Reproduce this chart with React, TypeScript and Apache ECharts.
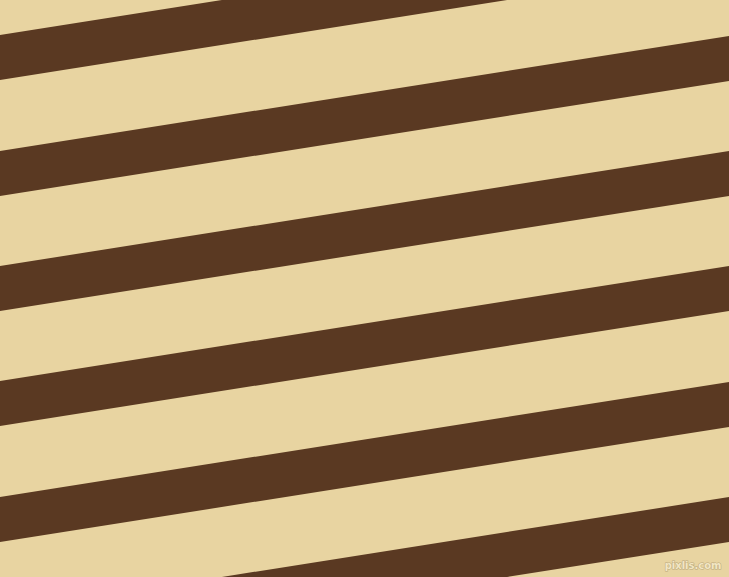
import { useRef, useEffect } from "react";
import * as echarts from "echarts";

const W = 729;
const H = 577;

// y of each stripe's upper edge at the left (x = 0) and right (x = 729) border
const stripeLeftTop = [35, 151, 266, 381, 497, 612];
const stripeRightTop = [-80, 36, 151, 266, 382, 497];
const stripeThickness = 45;

const App = () => {
  const chartRef = useRef<HTMLDivElement>(null);

  useEffect(() => {
    if (!chartRef.current) return;
    const myChart = echarts.init(chartRef.current, null, { renderer: "svg" });

    const data = stripeLeftTop.map((l, i) => [l, stripeRightTop[i]]);

    myChart.setOption({
      animation: false,
      backgroundColor: "#e8d4a1",
      grid: { left: 0, right: 0, top: 0, bottom: 0 },
      xAxis: { type: "value", min: 0, max: W, show: false },
      yAxis: { type: "value", min: 0, max: H, inverse: true, show: false },
      series: [
        {
          type: "custom",
          data,
          clip: true,
          renderItem: (params: any, api: any) => {
            const l = api.value(0);
            const r = api.value(1);
            const pts = [
              api.coord([0, l]),
              api.coord([W, r]),
              api.coord([W, r + stripeThickness]),
              api.coord([0, l + stripeThickness]),
            ];
            return {
              type: "polygon",
              shape: { points: pts },
              style: { fill: "#5a3922" },
            };
          },
        },
      ],
      graphic: [
        {
          type: "text",
          right: 7,
          bottom: 6,
          style: {
            text: "pixlis.com",
            font: "bold 10px 'DejaVu Sans'",
            fill: "#f2e6c4",
            stroke: "#b8a67a",
            lineWidth: 1,
          },
        },
      ],
    });

    return () => {
      myChart.dispose();
    };
  }, []);

  return (
    <div
      ref={chartRef}
      style={{ position: "fixed", left: 0, top: 0, width: W, height: H }}
    ></div>
  );
};

export default App;
